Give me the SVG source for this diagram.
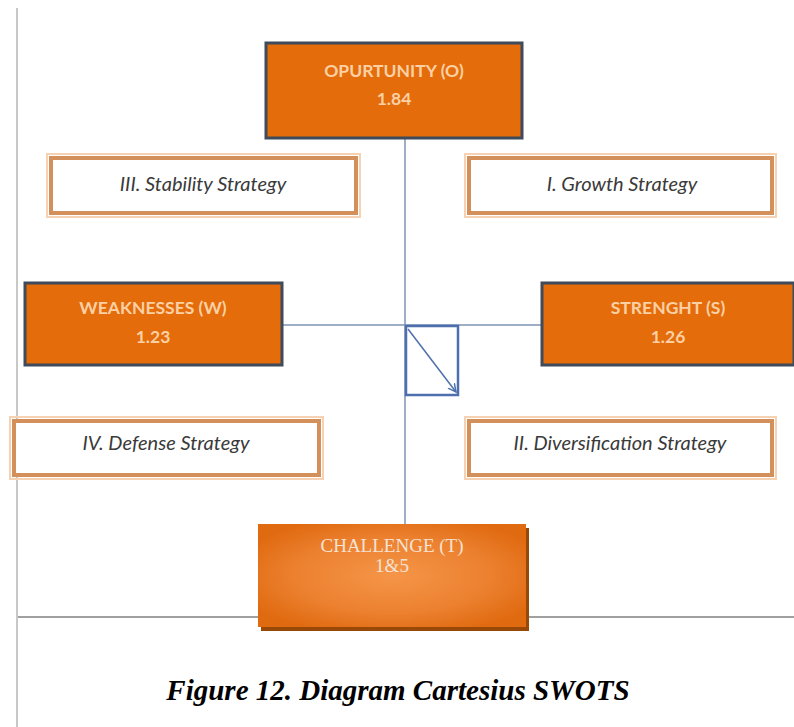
<svg xmlns="http://www.w3.org/2000/svg" width="794" height="727" viewBox="0 0 794 727">
<style>
.dark{fill:#e46c0a;stroke:#3f4a5a;stroke-width:3}
.strat{fill:#ffffff;stroke:#d3905a;stroke-width:4}
.strat2{fill:none;stroke:#f6d2b2;stroke-width:2}
.lbl{font-family:"Lato","Open Sans","Liberation Sans",sans-serif;font-size:17.5px;font-weight:bold;fill:#fbd0a4;text-anchor:middle}
.st{font-family:"Lato","Open Sans","Liberation Sans",sans-serif;font-size:20px;font-style:italic;fill:#3a3a3a;text-anchor:middle}
.axis{stroke:#7d93b5;stroke-width:1.5;fill:none}
.ch{font-family:"Liberation Serif","Times New Roman",serif;font-size:19px;fill:#f3e2d2;text-anchor:middle}
</style>
<defs>
<radialGradient id="chg" cx="0.5" cy="0.5" r="0.6">
<stop offset="0" stop-color="#f59548"/>
<stop offset="0.6" stop-color="#ec8130"/>
<stop offset="1" stop-color="#e06a10"/>
</radialGradient>
<marker id="arr" markerWidth="10" markerHeight="10" refX="8" refY="5" orient="auto" markerUnits="userSpaceOnUse">
<path d="M0,1 L8,5 L0,9" fill="none" stroke="#4e6fae" stroke-width="1.5"/>
</marker>
</defs>
<rect width="794" height="727" fill="#ffffff"/>
<g id="frame">
<line x1="17" y1="8" x2="17" y2="727" stroke="#c8c8c8" stroke-width="2"/>
<line x1="18" y1="617" x2="794" y2="617" stroke="#a0a0a0" stroke-width="2"/>
</g>
<g id="connectors">
<line class="axis" x1="405" y1="138" x2="405" y2="525"/>
<line class="axis" x1="283" y1="325" x2="541" y2="325"/>
<rect x="406" y="326" width="52" height="69" fill="none" stroke="#4e6fae" stroke-width="2.5"/>
<line x1="408" y1="329" x2="456" y2="392" stroke="#4e6fae" stroke-width="1.5" marker-end="url(#arr)"/>
</g>
<g id="opportunity">
<rect class="dark" x="266" y="43" width="256" height="95"/>
<text class="lbl" x="394" y="77">OPURTUNITY  (O)</text>
<text class="lbl" x="394" y="105">1.84</text>
</g>
<g id="stability">
<rect class="strat2" x="47" y="154" width="313" height="63"/>
<rect class="strat" x="51" y="158" width="305" height="55"/>
<text class="st" x="203" y="191">III. Stability Strategy</text>
</g>
<g id="growth">
<rect class="strat2" x="465" y="154" width="311" height="63"/>
<rect class="strat" x="469" y="158" width="303" height="55"/>
<text class="st" x="622" y="191">I. Growth Strategy</text>
</g>
<g id="weaknesses">
<rect class="dark" x="25" y="283" width="257" height="82"/>
<text class="lbl" x="153" y="314">WEAKNESSES (W)</text>
<text class="lbl" x="153" y="343">1.23</text>
</g>
<g id="strength">
<rect class="dark" x="542" y="283" width="252" height="82"/>
<text class="lbl" x="668" y="314">STRENGHT  (S)</text>
<text class="lbl" x="668" y="343">1.26</text>
</g>
<g id="defense">
<rect class="strat2" x="10" y="417" width="313" height="62"/>
<rect class="strat" x="14" y="421" width="305" height="54"/>
<text class="st" x="166" y="450">IV. Defense Strategy</text>
</g>
<g id="diversification">
<rect class="strat2" x="465" y="417" width="311" height="62"/>
<rect class="strat" x="469" y="421" width="303" height="54"/>
<text class="st" x="620" y="450">II. Diversification Strategy</text>
</g>
<g id="challenge">
<rect x="261" y="528" width="268" height="103" fill="#984807"/>
<rect x="258" y="524" width="268" height="103" fill="url(#chg)"/>
<text class="ch" x="392" y="552">CHALLENGE (T)</text>
<text class="ch" x="392" y="572">1&amp;5</text>
</g>
<text x="398" y="700" font-family="Liberation Serif,'Times New Roman',serif" font-size="29" font-weight="bold" font-style="italic" text-anchor="middle" fill="#000">Figure 12. Diagram Cartesius SWOTS</text>
</svg>
